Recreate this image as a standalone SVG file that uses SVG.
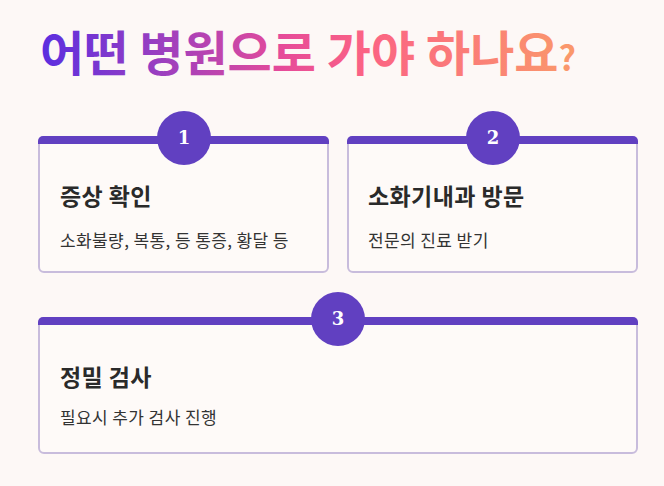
<svg xmlns="http://www.w3.org/2000/svg" width="664" height="486" viewBox="0 0 664 486">
  <style>
    .card { fill: #fefaf8; stroke: #c8bcdc; stroke-width: 2; }
    .bar { fill: #6140c1; }
    .badge { fill: #6140c1; }
    .num { font-family: "DejaVu Serif", "Liberation Serif", serif; font-weight: 700; font-size: 18px; fill: #ffffff; text-anchor: middle; }
    .head { font-family: "Noto Sans CJK KR", sans-serif; font-weight: 700; font-size: 23px; letter-spacing: 0.4px; fill: #2a2a2a; }
    .sub { font-family: "Noto Sans CJK KR", sans-serif; font-weight: 400; font-size: 17px; letter-spacing: 0.4px; fill: #333333; }
    .title { font-family: "Noto Sans CJK KR", sans-serif; font-weight: 700; font-size: 48px; }
  </style>
  <defs>
    <linearGradient id="tg" gradientUnits="userSpaceOnUse" x1="40" y1="0" x2="580" y2="0">
      <stop offset="0" stop-color="#5a2ee0"/>
      <stop offset="0.22" stop-color="#9a3fc0"/>
      <stop offset="0.45" stop-color="#e64b99"/>
      <stop offset="0.6" stop-color="#fb6384"/>
      <stop offset="1" stop-color="#fa9a6a"/>
    </linearGradient>
  </defs>
  <rect width="664" height="486" fill="#fdf8f6"/>
  <g id="title">
    <text class="title" x="40" y="71" fill="url(#tg)">어떤 병원으로 가야 하나요<tspan font-size="34px">?</tspan></text>
  </g>
  <g id="connectors"></g>
  <g id="node1">
    <rect class="card" x="39" y="138" width="289" height="134" rx="5"/>
    <path class="bar" d="M38,144 V141 a5,5 0 0 1 5,-5 H324 a5,5 0 0 1 5,5 V144 Z"/>
    <circle class="badge" cx="184" cy="138" r="27"/>
    <text class="num" x="184" y="144">1</text>
    <text class="head" x="60" y="205">증상 확인</text>
    <text class="sub" x="60" y="247">소화불량, 복통, 등 통증, 황달 등</text>
  </g>
  <g id="node2">
    <rect class="card" x="348" y="138" width="289" height="134" rx="5"/>
    <path class="bar" d="M347,144 V141 a5,5 0 0 1 5,-5 H633 a5,5 0 0 1 5,5 V144 Z"/>
    <circle class="badge" cx="493" cy="138" r="27"/>
    <text class="num" x="493" y="144">2</text>
    <text class="head" x="368" y="205">소화기내과 방문</text>
    <text class="sub" x="368" y="247">전문의 진료 받기</text>
  </g>
  <g id="node3">
    <rect class="card" x="39" y="319" width="598" height="134" rx="5"/>
    <path class="bar" d="M38,325 V322 a5,5 0 0 1 5,-5 H633 a5,5 0 0 1 5,5 V325 Z"/>
    <circle class="badge" cx="338" cy="319" r="27"/>
    <text class="num" x="338" y="325">3</text>
    <text class="head" x="60" y="386">정밀 검사</text>
    <text class="sub" x="60" y="424">필요시 추가 검사 진행</text>
  </g>
</svg>
